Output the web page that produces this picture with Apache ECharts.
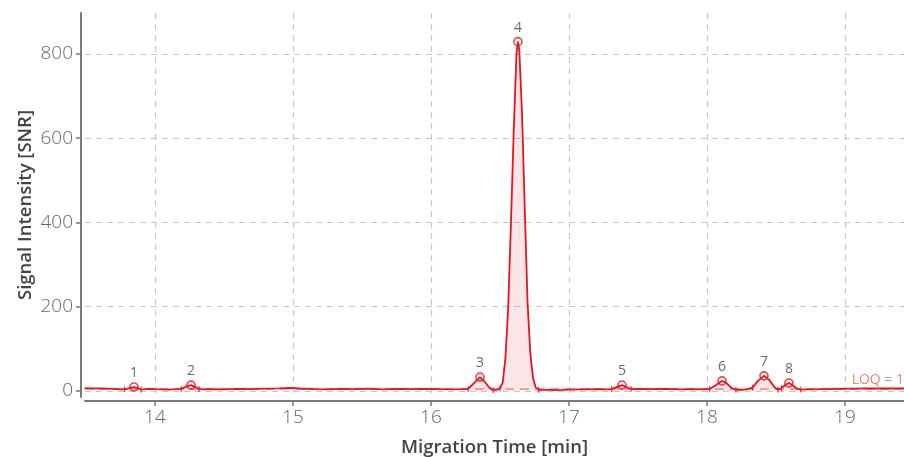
<!DOCTYPE html>
<html>
<head>
<meta charset="utf-8">
<script src="https://cdn.jsdelivr.net/npm/echarts@6/dist/echarts.min.js"></script>
<style>html,body{margin:0;padding:0;background:#fff}#c{width:904px;height:457px}</style>
</head>
<body>
<div id="c"></div>
<script>
// Electropherogram trace (time in min, signal in SNR)
const traceTime = [13.49,13.55,13.6,13.65,13.7,13.75,13.78,13.82,13.848,13.875,13.9,13.93,13.97,14.0,14.05,14.1,14.15,
  14.19,14.23,14.261,14.29,14.32,14.35,14.4,14.5,14.6,14.7,14.8,14.9,14.98,15.05,15.15,15.25,15.35,15.45,15.55,15.65,15.75,15.85,15.95,16.05,16.15,16.22,
  16.27,16.31,16.355,16.39,16.42,16.45,16.48,
  16.5,16.52,16.54,16.56,16.58,16.6,16.62,16.63,16.64,16.66,16.68,16.7,16.72,16.74,16.76,16.78,
  16.85,16.9,16.95,17.0,17.1,17.2,17.28,
  17.31,17.35,17.384,17.42,17.45,17.5,17.6,17.7,17.8,17.9,17.98,
  18.02,18.06,18.109,18.14,18.18,18.21,18.25,18.29,
  18.33,18.37,18.413,18.45,18.49,18.515,
  18.54,18.57,18.594,18.62,18.65,18.68,
  18.75,18.85,18.95,19.05,19.15,19.25,19.35,19.43];
const traceSignal = [7,6.5,6,5.5,5,4,4,7.5,9.5,7,3.5,4.5,5,4.5,4,3.5,4.5,
  5,11,14,10,5,4,4.5,4,5,4.5,5.5,6.5,7.5,6,4.5,4,5,4.5,5.5,4,5,4.5,5,4.5,4,4.5,
  5,18,33,22,9,2,3.5,
  6,20,80,200,400,620,800,829,810,660,430,210,90,30,8,3,
  2.5,2,2.5,3.5,4,4.5,4,
  4.5,10,14,9,4.5,5,4.5,5,4,4.5,4,
  5,13,24,19,7,3,3,4,
  8,24,36,27,9,3,
  7,15,19,14,6,3.5,
  4,4.5,5,5.5,6,6.5,6,6.5];

// Detected peaks
const peakLabels = ["1","2","3","4","5","6","7","8"];
const peakTime   = [13.848,14.261,16.355,16.63,17.384,18.109,18.413,18.594];
const peakSignal = [9.5,14,33,829,14,24,36,19];
const peakStart  = [13.78,14.19,16.27,16.5,17.31,18.02,18.33,18.54];
const peakEnd    = [13.9,14.32,16.45,16.78,17.45,18.21,18.515,18.68];

const loqValue = 5;
const loqText = "LOQ = 1";

const xTicks = [14,15,16,17,18,19];
const yTicks = [0,200,400,600,800];

const RED = '#e3161f';
const trace = traceTime.map((t,i)=>[t,traceSignal[i]]);
function valAt(t){ const i = traceTime.indexOf(t); return traceSignal[i]; }

const series = [];
peakStart.forEach((s,k)=>{
  series.push({
    type:'line', data: trace.filter(p=>p[0]>=s && p[0]<=peakEnd[k]),
    showSymbol:false, lineStyle:{width:0}, silent:true,
    areaStyle:{color:'rgba(227,22,31,0.16)', origin:0}, z:1
  });
});
series.push({
  type:'line', data: trace, showSymbol:false, z:3,
  lineStyle:{color:RED, width:1.8}, itemStyle:{color:RED},
  markLine:{
    silent:true, symbol:'none', z:2,
    lineStyle:{color:'#f1a0a0', type:[9,6], width:1.8},
    label:{show:true, position:'insideEndTop', formatter:loqText, color:'#ef8080',
      fontFamily:'Open Sans', fontSize:14, distance:[0,2]},
    data:[{yAxis:loqValue}]
  }
});
const bounds = [];
peakStart.forEach((s,k)=>{ bounds.push([s,valAt(s)]); bounds.push([peakEnd[k],valAt(peakEnd[k])]); });
series.push({
  type:'scatter', data: bounds, symbol:'rect', symbolSize:[1.2,6], z:4,
  itemStyle:{color:RED}, silent:true
});
series.push({
  type:'scatter', data: peakTime.map((t,i)=>[t,peakSignal[i]]), symbol:'circle', symbolSize:8, z:5,
  itemStyle:{color:'rgba(255,255,255,0)', borderColor:RED, borderWidth:1.6},
  label:{show:true, position:'top', distance:2, formatter:p=>peakLabels[p.dataIndex],
    color:'#444', fontFamily:'Open Sans', fontSize:14}
});

const chart = echarts.init(document.getElementById('c'), null, {renderer:'canvas'});
const gridLine = {show:true, lineStyle:{color:'#c9c9c9', type:[6,5], width:1.2}};
chart.setOption({
  animation:false,
  grid:{left:85, right:0, top:13, bottom:60, containLabel:false, outerBoundsMode:'none'},
  xAxis:{
    type:'value', min:13.493, max:19.428, offset:4,
    name:'Migration Time [min]', nameLocation:'middle', nameGap:37, nameMoveOverlap:false,
    nameTextStyle:{color:'#444', fontFamily:'Open Sans', fontWeight:600, fontSize:18.5},
    axisLine:{show:true, onZero:false, lineStyle:{color:'#7a7a7a', width:2}},
    axisTick:{show:true, length:5, customValues:xTicks, lineStyle:{color:'#7a7a7a', width:1.5}},
    axisLabel:{customValues:xTicks, color:'#686868', fontFamily:'Open Sans', fontWeight:300, fontSize:19, margin:7},
    splitLine:gridLine
  },
  yAxis:{
    type:'value', min:-14.2, max:897, offset:4,
    name:'Signal Intensity [SNR]', nameLocation:'middle', nameGap:46, nameRotate:90, nameMoveOverlap:false,
    nameTextStyle:{color:'#444', fontFamily:'Open Sans', fontWeight:600, fontSize:18.5},
    axisLine:{show:true, onZero:false, lineStyle:{color:'#7a7a7a', width:2}},
    axisTick:{show:true, length:5, customValues:yTicks, lineStyle:{color:'#7a7a7a', width:1.5}},
    axisLabel:{customValues:yTicks, color:'#686868', fontFamily:'Open Sans', fontWeight:300, fontSize:19, margin:8},
    splitLine:gridLine
  },
  series: series
});
</script>
</body>
</html>
